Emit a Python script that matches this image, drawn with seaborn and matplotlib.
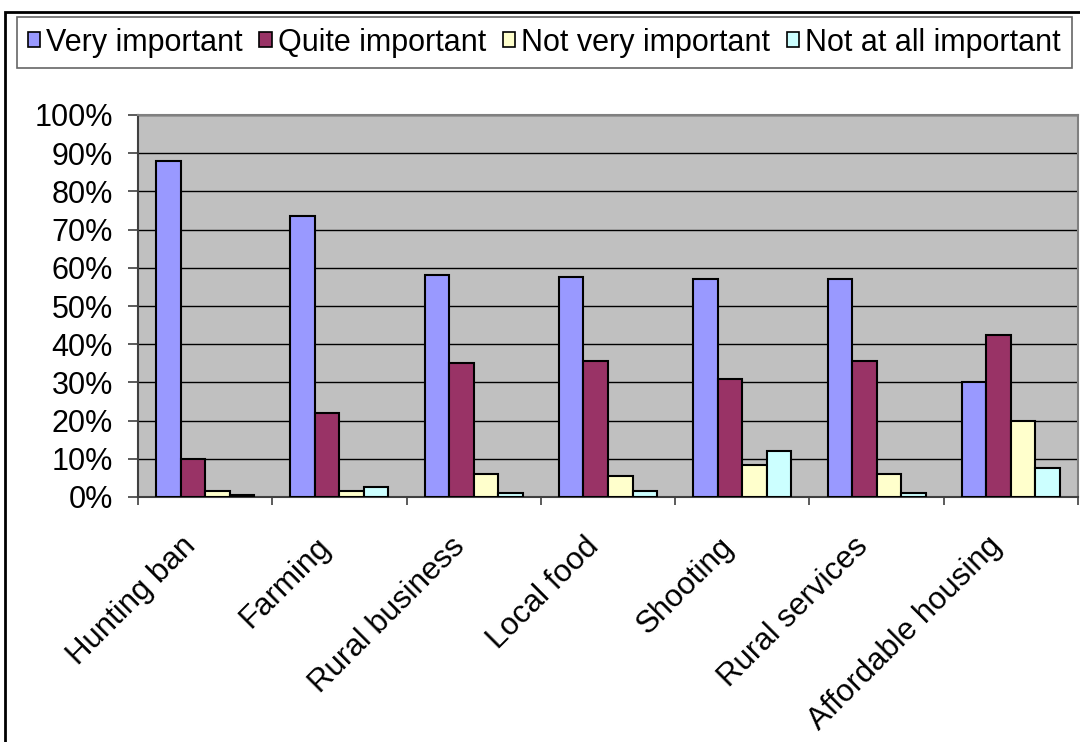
import matplotlib as mpl
import matplotlib.pyplot as plt
from matplotlib.patches import Patch, Rectangle
from matplotlib.ticker import FixedLocator, PercentFormatter
import matplotlib.transforms as mtransforms
import seaborn as sns
import pandas as pd

# values (percent)
areas = ['Hunting ban', 'Farming', 'Rural business', 'Local food',
         'Shooting', 'Rural services', 'Affordable housing']
levels = ['Very important', 'Quite important', 'Not very important', 'Not at all important']
very_important = [88, 73.5, 58, 57.5, 57, 57, 30]
quite_important = [10, 22, 35, 35.5, 31, 35.5, 42.5]
not_very_important = [1.5, 1.5, 6, 5.5, 8.5, 6, 20]
not_at_all_important = [0.6, 2.5, 1, 1.5, 12, 1, 7.5]
colours = ['#9999FF', '#993366', '#FFFFCC', '#CCFFFF']

df = pd.DataFrame({
    'area': areas * 4,
    'importance': [lv for lv in levels for _ in areas],
    'pct': very_important + quite_important + not_very_important + not_at_all_important,
})

sns.set_style('white')
plt.rcParams['font.family'] = ['Liberation Sans', 'DejaVu Sans']
plt.rcParams['text.color'] = 'black'

fig = plt.figure(figsize=(10.8, 7.42), dpi=100)
ax = fig.add_axes([138/1080, 1 - 497/742, 940/1080, 382/742])
ax.set_facecolor('#C0C0C0')

sns.barplot(data=df, x='area', y='pct', hue='importance', hue_order=levels,
            palette=colours, width=0.73, gap=0, edgecolor='black',
            linewidth=1.5, saturation=1, legend=False, ax=ax, zorder=3)

ax.set_xlim(-0.5, len(areas) - 0.5)
ax.set_ylim(0, 100)
ax.set_yticks(range(0, 101, 10))
ax.yaxis.set_major_formatter(PercentFormatter(decimals=0))
ax.grid(axis='y', color='black', linewidth=1, zorder=1)
ax.set_axisbelow(True)
ax.set_xlabel('')
ax.set_ylabel('')

for side in ['top', 'right']:
    ax.spines[side].set_color('#808080')
    ax.spines[side].set_linewidth(1.5)
for side in ['left', 'bottom']:
    ax.spines[side].set_color('#404040')
    ax.spines[side].set_linewidth(1.5)

ax.tick_params(axis='y', direction='out', length=7, width=1.2, color='#404040',
               left=True, pad=11, labelsize=22, labelcolor='black')
ax.xaxis.set_minor_locator(FixedLocator([i - 0.5 for i in range(len(areas) + 1)]))
ax.tick_params(axis='x', which='major', length=0, pad=6, labelsize=22.5,
               labelcolor='black')
ax.tick_params(axis='x', which='minor', direction='out', length=6, width=1.2,
               color='#404040', bottom=True)

# push rotated labels down-left like the original
offset = mtransforms.ScaledTranslation(-0.24, -0.26, fig.dpi_scale_trans)
for lab in ax.get_xticklabels():
    lab.set_rotation(45)
    lab.set_ha('right')
    lab.set_va('top')
    lab.set_rotation_mode('anchor')
    lab.set_transform(lab.get_transform() + offset)

handles = [Patch(facecolor=c, edgecolor='black', linewidth=1.2, label=lv)
           for c, lv in zip(colours, levels)]
leg = fig.legend(handles=handles, loc='upper left', ncol=4,
                 bbox_to_anchor=(17/1080, 1 - 17/742), frameon=True,
                 fancybox=False, edgecolor='#404040', fontsize=22,
                 labelcolor='black',
                 handlelength=0.4, handleheight=0.4, handletextpad=0.2,
                 columnspacing=0.55, borderpad=0.35, borderaxespad=0)
leg.get_frame().set_linewidth(1.2)

# outer chart border (runs off the right and bottom edges)
fig.patches.append(Rectangle((5/1080, -0.1), 1.2, 1.1 - 12/742,
                             transform=fig.transFigure, fill=False,
                             edgecolor='black', linewidth=2, zorder=0))

fig.savefig('out.png', dpi=100)
